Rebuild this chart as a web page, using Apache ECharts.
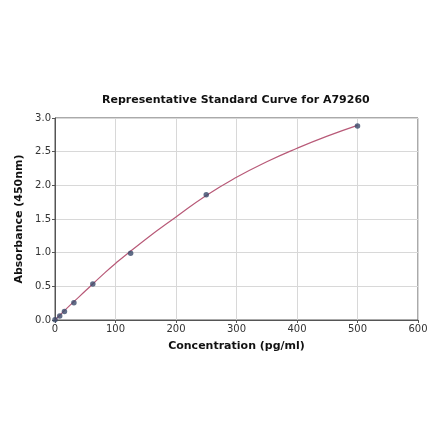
<!DOCTYPE html>
<html>
<head>
	<meta charset="UTF-8">
	<title>Standard Curve</title>
	<script src="https://cdn.jsdelivr.net/npm/echarts@6/dist/echarts.min.js"></script>
	<style>
		html, body { margin: 0; padding: 0; background: #fff; }
		#chart { width: 440px; height: 441px; }
	</style>
</head>
<body>
	<div id="chart"></div>
	<script>
		// standards measured
		var concentrations = [0, 7.8, 15.6, 31.25, 62.5, 125, 250, 500];
		var absorbance = [0.005, 0.06, 0.125, 0.255, 0.535, 0.99, 1.86, 2.88];
		// fitted curve
		var curveX = [0, 25, 50, 75, 100, 150, 200, 250, 300, 350, 400, 450, 500];
		var curveY = [0, 0.22, 0.43, 0.64, 0.84, 1.2, 1.53, 1.85, 2.12, 2.35, 2.55, 2.73, 2.89];

		var xTicks = [0, 100, 200, 300, 400, 500, 600];
		var yTicks = [0.0, 0.5, 1.0, 1.5, 2.0, 2.5, 3.0];

		var font = 'DejaVu Sans';
		var pts = concentrations.map(function (c, i) { return [c, absorbance[i]]; });
		var curve = curveX.map(function (c, i) { return [c, curveY[i]]; });

		var chart = echarts.init(document.getElementById('chart'), null, { renderer: 'canvas' });
		chart.setOption({
			backgroundColor: '#fff',
			animation: false,
			title: {
				text: 'Representative Standard Curve for A79260',
				left: 97, top: 90,
				textStyle: { fontFamily: font, fontSize: 11, fontWeight: 'bold', color: '#111' }
			},
			grid: { left: 55, right: 22, top: 118, bottom: 121, show: true, borderColor: '#555', borderWidth: 1 },
			xAxis: {
				type: 'value', min: xTicks[0], max: xTicks[xTicks.length - 1], interval: 100,
				name: 'Concentration (pg/ml)', nameLocation: 'middle', nameGap: 21,
				nameTextStyle: { fontFamily: font, fontSize: 11, fontWeight: 'bold', color: '#111' },
				axisLine: { lineStyle: { color: '#555' } },
				axisTick: { length: 3, lineStyle: { color: '#555' } },
				axisLabel: { fontFamily: font, fontSize: 10, color: '#333', margin: 4 },
				splitLine: { lineStyle: { color: '#d8d8d8' } }
			},
			yAxis: {
				type: 'value', min: yTicks[0], max: yTicks[yTicks.length - 1], interval: 0.5,
				name: 'Absorbance (450nm)', nameLocation: 'middle', nameGap: 27, nameRotate: 90,
				nameTextStyle: { fontFamily: font, fontSize: 11, fontWeight: 'bold', color: '#111' },
				axisLine: { show: true, lineStyle: { color: '#555' } },
				axisTick: { show: true, length: 3, lineStyle: { color: '#555' } },
				axisLabel: { fontFamily: font, fontSize: 10, color: '#333', margin: 4,
					formatter: function (v) { return v.toFixed(1); } },
				splitLine: { lineStyle: { color: '#d8d8d8' } }
			},
			series: [
				{
					type: 'line', data: curve, smooth: true, showSymbol: false,
					lineStyle: { color: '#b85a78', width: 1.2 }, z: 2
				},
				{
					type: 'scatter', data: pts, symbolSize: 5.5,
					itemStyle: { color: '#3a4a6a' }, z: 3
				}
			]
		});
	</script>
</body>
</html>
